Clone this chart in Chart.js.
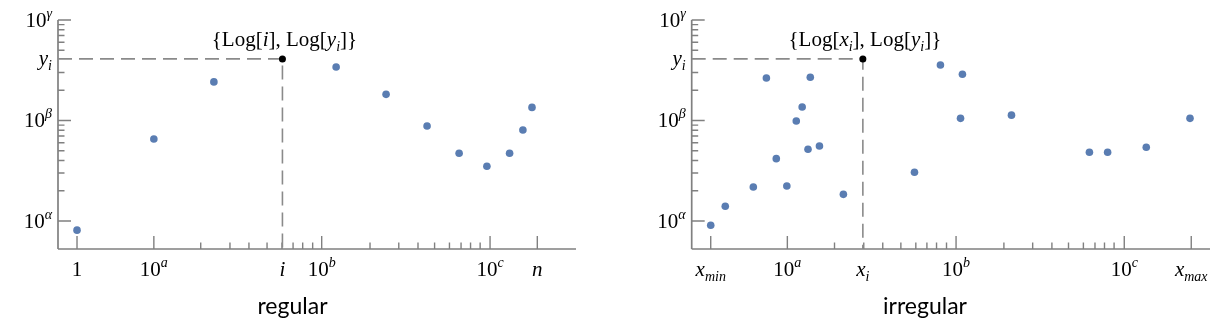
<!DOCTYPE html>
<html>
<head>
<meta charset="utf-8">
<script src="https://cdn.jsdelivr.net/npm/chart.js@4.4.0/dist/chart.umd.min.js"></script>
<style>
  html, body { margin: 0; padding: 0; background: #fff; }
  #wrap { position: relative; width: 1220px; height: 322px; }
  canvas { position: absolute; top: 0; }
</style>
</head>
<body>
<div id="wrap">
  <canvas id="chartRegular" width="610" height="322" style="left:0px"></canvas>
  <canvas id="chartIrregular" width="610" height="322" style="left:610px"></canvas>
</div>
<script>
// regular sampling (index i on the x axis)
const regularX = [1, 2.86, 6.5, 34.6, 68.5, 120, 186, 272, 371, 445, 504];
const regularY = [0.81, 6.55, 24.2, 34.1, 18.2, 8.8, 4.72, 3.5, 4.72, 8.04, 13.5];
const regularPick = { x: 16.6, y: 41 };

// irregular sampling (x_i on the x axis)
const irregularX = [1.0, 1.22, 1.79, 2.14, 2.45, 2.83, 3.22, 3.49, 3.78, 3.9, 4.42, 6.13,
                    16.2, 23.1, 30.4, 31.2, 61, 177, 227, 385, 700];
const irregularY = [0.906, 1.40, 2.18, 26.5, 4.17, 2.23, 9.89, 13.6, 5.17, 26.9, 5.58, 1.84,
                    3.05, 35.7, 10.5, 28.8, 11.3, 4.83, 4.83, 5.41, 10.5];
const irregularPick = { x: 8.0, y: 41 };

// axis ranges
const xMin = 0.771, xMax = 920;
const yMin = 0.526, yMax = 100;

// tick positions and labels
const yMajor = [1, 10, 100];
const yMajorLabels = ['10^α', '10^β', '10^γ'];
const yMinor = [2, 3, 4, 5, 6, 7, 8, 9, 20, 30, 50, 60, 70, 80, 90];
const xMinor = [5.43, 8.1, 10.5, 13.45, 16.5, 19.2, 21.9, 25.1, 55, 81.5, 106, 133, 163, 191, 217.5, 248];
const regularTicks = [1, 2.86, 28.4, 284, 542];
const regularTickLabels = ['1', '10^a', '10^b', '10^c', 'n'];
const irregularTicks = [1, 2.85, 28.6, 285, 712];
const irregularTickLabels = ['x_min', '10^a', '10^b', '10^c', 'x_max'];

const blue = 'rgb(90, 125, 178)';
const axisGray = '#808080';
const dashGray = '#8a8a8a';
const serif = '"Liberation Serif", "Times New Roman", serif';

function parseLabel(s) {
  const m = s.match(/^([^_^]*)([_^])(.*)$/);
  if (!m) return [{ t: s, k: 'base' }];
  return [{ t: m[1], k: 'base' }, { t: m[3], k: m[2] === '^' ? 'sup' : 'sub' }];
}

function fontFor(part) {
  const italic = /[^0-9{}\[\],. LogL]/.test(part.t) || part.it;
  const size = part.k === 'base' ? 21 : 14;
  return (italic && !part.up ? 'italic ' : '') + size + 'px ' + serif;
}

function drawRich(ctx, parts, x, y, align) {
  let w = 0;
  parts.forEach(p => { ctx.font = fontFor(p); p.w = ctx.measureText(p.t).width; w += p.w; });
  let cx = align === 'right' ? x - w : align === 'center' ? x - w / 2 : x;
  ctx.fillStyle = '#000';
  ctx.textAlign = 'left';
  ctx.textBaseline = 'alphabetic';
  parts.forEach(p => {
    ctx.font = fontFor(p);
    const dy = p.k === 'sup' ? -9 : p.k === 'sub' ? 5 : 0;
    ctx.fillText(p.t, cx, y + dy);
    cx += p.w;
  });
}

function makeChart(id, xs, ys, pick, ticks, tickLabels, pickLabelX, pickLabelY, pickNote, title, titleX, padLeft) {
  const axesPlugin = {
    id: 'axes',
    beforeDatasetsDraw(chart) {
      const ctx = chart.ctx;
      const xs_ = chart.scales.x, ys_ = chart.scales.y;
      const a = chart.chartArea;
      ctx.save();
      ctx.strokeStyle = axisGray;
      ctx.lineWidth = 1.7;
      ctx.beginPath();
      ctx.moveTo(a.left, a.top); ctx.lineTo(a.left, a.bottom);
      ctx.moveTo(a.left, a.bottom); ctx.lineTo(a.right, a.bottom);
      ctx.stroke();
      ctx.lineWidth = 1.4;
      ctx.beginPath();
      yMajor.forEach(v => { const p = ys_.getPixelForValue(v); ctx.moveTo(a.left, p); ctx.lineTo(a.left + 13, p); });
      yMinor.forEach(v => { const p = ys_.getPixelForValue(v); ctx.moveTo(a.left, p); ctx.lineTo(a.left + 6.5, p); });
      ticks.forEach(v => { const p = xs_.getPixelForValue(v); ctx.moveTo(p, a.bottom); ctx.lineTo(p, a.bottom - 13); });
      xMinor.forEach(v => { const p = xs_.getPixelForValue(v); ctx.moveTo(p, a.bottom); ctx.lineTo(p, a.bottom - 6.5); });
      ctx.stroke();
      ctx.restore();
    },
    afterDraw(chart) {
      const ctx = chart.ctx;
      const xs_ = chart.scales.x, ys_ = chart.scales.y;
      const a = chart.chartArea;
      ctx.save();
      yMajor.forEach((v, i) => drawRich(ctx, parseLabel(yMajorLabels[i]), a.left - 6, ys_.getPixelForValue(v) + 7, 'right'));
      drawRich(ctx, parseLabel(pickLabelY), a.left - 6, ys_.getPixelForValue(pick.y) + 6, 'right');
      ticks.forEach((v, i) => drawRich(ctx, parseLabel(tickLabels[i]), xs_.getPixelForValue(v), 276, 'center'));
      drawRich(ctx, parseLabel(pickLabelX), xs_.getPixelForValue(pick.x), 276, 'center');
      drawRich(ctx, pickNote, xs_.getPixelForValue(pick.x) + 2, ys_.getPixelForValue(pick.y) - 13, 'center');
      ctx.font = '23px Lato, "Open Sans", sans-serif';
      ctx.fillStyle = '#000';
      ctx.textAlign = 'center';
      ctx.fillText(title, titleX, 314);
      ctx.restore();
    }
  };

  return new Chart(document.getElementById(id), {
    type: 'scatter',
    data: {
      datasets: [
        {
          data: [{ x: xMin, y: pick.y }, { x: pick.x, y: pick.y }, { x: pick.x, y: yMin }],
          showLine: true,
          borderColor: dashGray,
          borderWidth: 1.6,
          borderDash: [14, 7],
          pointRadius: 0,
          order: 3
        },
        {
          data: xs.map((x, i) => ({ x: x, y: ys[i] })),
          backgroundColor: blue,
          borderWidth: 0,
          pointRadius: 3.8,
          order: 2
        },
        {
          data: [pick],
          backgroundColor: '#000',
          borderWidth: 0,
          pointRadius: 3.5,
          order: 1
        }
      ]
    },
    options: {
      responsive: false,
      animation: false,
      layout: { padding: { left: padLeft, right: padLeft === 58 ? 34 : 10, top: 20, bottom: 73 } },
      plugins: { legend: { display: false }, tooltip: { enabled: false } },
      scales: {
        x: { type: 'logarithmic', min: xMin, max: xMax, display: false },
        y: { type: 'logarithmic', min: yMin, max: yMax, display: false }
      }
    },
    plugins: [axesPlugin]
  });
}

const noteRegular = [
  { t: '{Log[', k: 'base', up: true }, { t: 'i', k: 'base', it: true },
  { t: '], Log[', k: 'base', up: true }, { t: 'y', k: 'base', it: true },
  { t: 'i', k: 'sub', it: true }, { t: ']}', k: 'base', up: true }
];
const noteIrregular = [
  { t: '{Log[', k: 'base', up: true }, { t: 'x', k: 'base', it: true },
  { t: 'i', k: 'sub', it: true },
  { t: '], Log[', k: 'base', up: true }, { t: 'y', k: 'base', it: true },
  { t: 'i', k: 'sub', it: true }, { t: ']}', k: 'base', up: true }
];

makeChart('chartRegular', regularX, regularY, regularPick, regularTicks, regularTickLabels,
          'i', 'y_i', noteRegular, 'regular', 292.5, 58);
makeChart('chartIrregular', irregularX, irregularY, irregularPick, irregularTicks, irregularTickLabels,
          'x_i', 'y_i', noteIrregular, 'irregular', 315, 81.7);
</script>
</body>
</html>
